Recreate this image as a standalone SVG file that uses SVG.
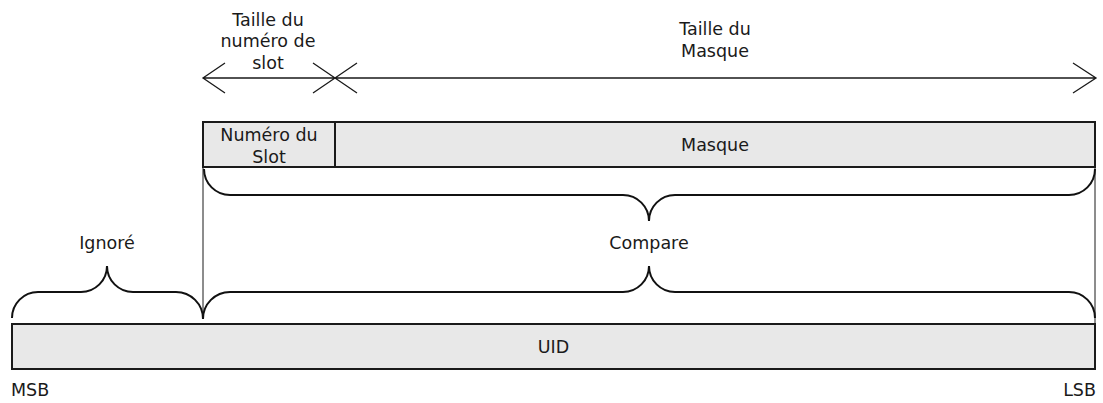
<svg xmlns="http://www.w3.org/2000/svg" width="1103" height="403" viewBox="0 0 1103 403">
<style>
text{font-family:"DejaVu Sans",sans-serif;font-size:17.5px;fill:#1a1a1a}
.c{text-anchor:middle}
.box{fill:#e8e8e8;stroke:#1a1a1a;stroke-width:2}
.thin{stroke:#1a1a1a;stroke-width:1;fill:none}
.brace{stroke:#111;stroke-width:2;fill:none}
.arr{stroke:#1a1a1a;stroke-width:1.3;fill:none}
</style>
<rect width="1103" height="403" fill="#fff"/>
<g id="connectors">
<path class="thin" d="M203,167 V319 M1095,167 V323"/>
<path class="arr" d="M203,78 H1096 M225,63 L203,78 L225,93 M313,63 L357,93 M313,93 L357,63 M1073,63 L1096,78 L1073,93"/>
<path id="brace-compare-top" class="brace" d="M204,169 A26,26 0 0 0 230,195 H623 A26,26 0 0 1 649,221 A26,26 0 0 1 675,195 H1069 A26,26 0 0 0 1095,169"/>
<path id="brace-compare-bottom" class="brace" d="M203,319 A27,27 0 0 1 230,292 H623 A26,26 0 0 0 649,266 A26,26 0 0 0 675,292 H1069 A26,26 0 0 1 1095,318"/>
<path id="brace-ignore" class="brace" d="M12,318 A26,26 0 0 1 38,292 H81 A26,26 0 0 0 107,266 A26,26 0 0 0 133,292 H176 A27,27 0 0 1 203,319"/>
</g>
<g id="label-taille-slot">
<text class="c" x="268" y="25.5">Taille du</text>
<text class="c" x="268" y="47">numéro de</text>
<text class="c" x="268" y="68.5">slot</text>
</g>
<g id="label-taille-masque">
<text class="c" x="715" y="35">Taille du</text>
<text class="c" x="715" y="57">Masque</text>
</g>
<g id="node-slot">
<rect class="box" x="203" y="122" width="132" height="45"/>
<text class="c" x="269" y="140.5">Numéro du</text>
<text class="c" x="269" y="162.5">Slot</text>
</g>
<g id="node-masque">
<rect class="box" x="335" y="122" width="760" height="45"/>
<text class="c" x="715" y="150.5">Masque</text>
</g>
<g id="label-compare"><text class="c" x="649" y="248.5">Compare</text></g>
<g id="label-ignore"><text class="c" x="107" y="248.5">Ignoré</text></g>
<g id="node-uid">
<rect class="box" x="12" y="324" width="1083" height="45"/>
<text class="c" x="553.5" y="353">UID</text>
</g>
<g id="label-msb"><text x="11" y="396">MSB</text></g>
<g id="label-lsb"><text x="1096" y="396" text-anchor="end">LSB</text></g>
</svg>
